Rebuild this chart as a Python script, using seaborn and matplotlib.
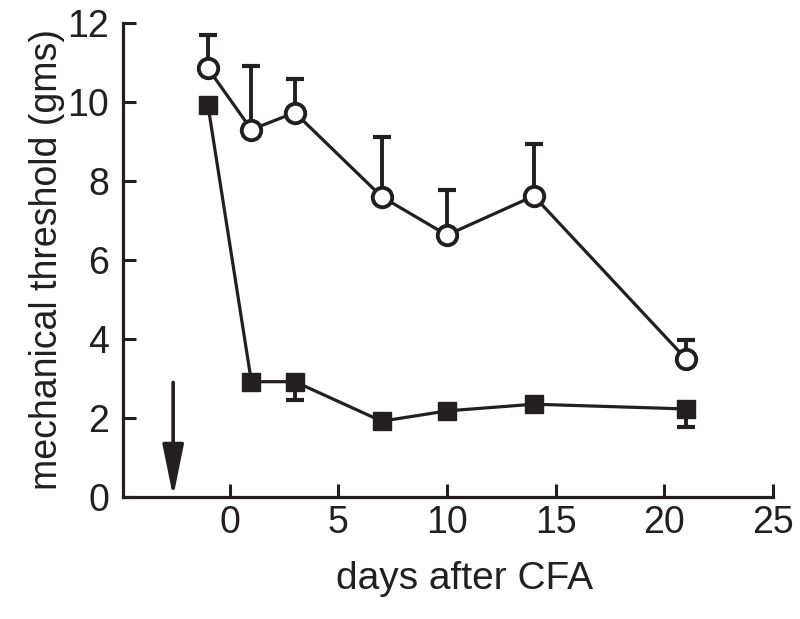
import numpy as np
import pandas as pd
import matplotlib
matplotlib.use("Agg")
import matplotlib.pyplot as plt
import seaborn as sns

# data
days = [-1, 1, 3, 7, 10, 14, 21]
open_mean = [10.85, 9.3, 9.73, 7.6, 6.63, 7.62, 3.5]
open_top = [11.7, 10.9, 10.58, 9.1, 7.77, 8.94, 3.97]
filled_mean = [9.92, 2.92, 2.92, 1.92, 2.18, 2.35, 2.23]
filled_bottom = [9.92, 2.92, 2.45, 1.92, 2.18, 2.35, 1.78]
arrow_day = -2.6
arrow_top = 2.9

ink = "#231f20"

sns.set_style("ticks")
plt.rcParams['font.family'] = ['Liberation Sans', 'DejaVu Sans']

fig = plt.figure(figsize=(8, 6.19), dpi=100)
ax = fig.add_axes([0.154, 0.197, 0.812, 0.766])

df = pd.DataFrame({
    "day": days * 2,
    "threshold": open_mean + filled_mean,
    "group": ["open"] * len(days) + ["filled"] * len(days),
})

# one-sided error bars (upward for open, downward for filled)
o_up = np.array(open_top) - np.array(open_mean)
f_dn = np.array(filled_mean) - np.array(filled_bottom)
mo = o_up > 0
ax.errorbar(np.array(days)[mo], np.array(open_mean)[mo],
            yerr=[np.zeros(mo.sum()), o_up[mo]], fmt="none",
            ecolor=ink, elinewidth=2.8, capsize=6.5, capthick=3, zorder=1)
mf = f_dn > 0
ax.errorbar(np.array(days)[mf], np.array(filled_mean)[mf],
            yerr=[f_dn[mf], np.zeros(mf.sum())], fmt="none",
            ecolor=ink, elinewidth=2.8, capsize=6.5, capthick=3, zorder=1)

sns.lineplot(data=df[df.group == "open"], x="day", y="threshold", ax=ax,
             color=ink, lw=2.3, marker="o", markersize=14,
             markerfacecolor="white", markeredgecolor=ink, markeredgewidth=2.8,
             zorder=3)
sns.lineplot(data=df[df.group == "filled"], x="day", y="threshold", ax=ax,
             color=ink, lw=2.3, marker="s", markersize=13,
             markerfacecolor=ink, markeredgecolor=ink, markeredgewidth=1,
             zorder=3)

ax.annotate("", xy=(arrow_day, 0), xytext=(arrow_day, arrow_top),
            arrowprops=dict(arrowstyle="-|>,head_length=3.2,head_width=0.65",
                            mutation_scale=10, lw=2.6, color=ink,
                            shrinkA=0, shrinkB=0))

ax.set_xlim(-4.9, 25)
ax.set_ylim(0, 12)
ax.set_xticks([0, 5, 10, 15, 20, 25])
ax.set_yticks([0, 2, 4, 6, 8, 10, 12])
ax.tick_params(direction="in", length=9.5, width=2.2, colors=ink,
               labelsize=27, pad=6)
ax.tick_params(axis="y", pad=10)
for s in ["left", "bottom"]:
    ax.spines[s].set_linewidth(2.3)
    ax.spines[s].set_color(ink)
sns.despine(ax=ax)
ax.set_xlabel("days after CFA", fontsize=28, color=ink, labelpad=14)
ax.xaxis.label.set_x(0.526)
ax.set_ylabel("mechanical threshold (gms)", fontsize=27, color=ink, labelpad=2)

fig.savefig("out.png", dpi=100)
